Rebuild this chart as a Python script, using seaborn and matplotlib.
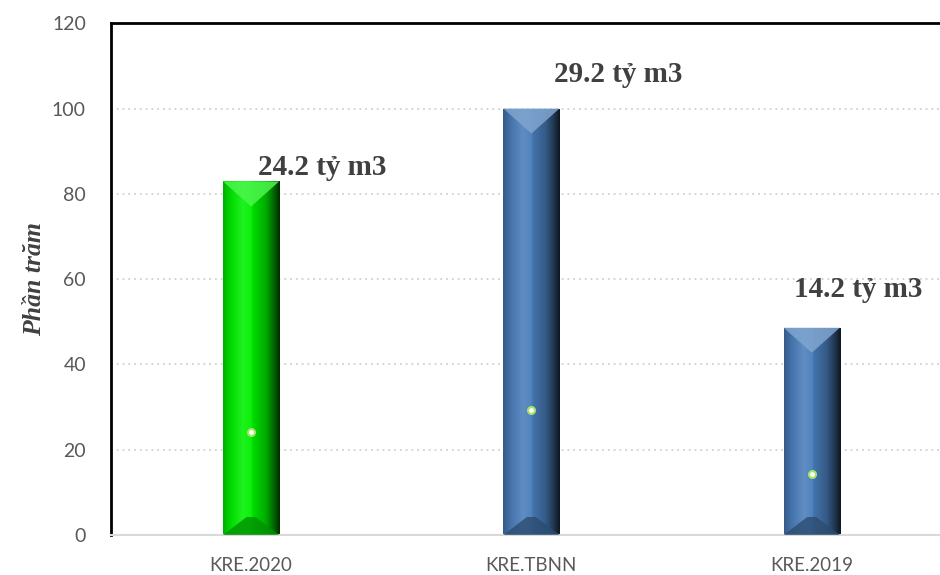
import numpy as np
import pandas as pd
import matplotlib.pyplot as plt
import seaborn as sns
from matplotlib.colors import LinearSegmentedColormap, to_rgb
from matplotlib.patches import Polygon

############################################################
# DATA
############################################################
categories = ["KRE.2020", "KRE.TBNN", "KRE.2019"]
percent = [82.9, 100.0, 48.6]          # % of long-term average (TBNN)
volume = [24.2, 29.2, 14.2]            # billion m3
labels = ["24.2 tỷ m3", "29.2 tỷ m3", "14.2 tỷ m3"]
y_ticks = [0, 20, 40, 60, 80, 100, 120]

bar_colors = ["#00f000", "#4a7ebb", "#4a7ebb"]

df = pd.DataFrame({"cat": categories, "pct": percent, "vol": volume})

############################################################
# STYLE
############################################################
sns.set_theme(style="white")
plt.rcParams["font.family"] = ["Lato", "DejaVu Sans"]

fig = plt.figure(figsize=(9.4, 5.75), dpi=100)
# right edge runs past the figure, like the cropped original
ax = fig.add_axes([0.118, 0.0696, 0.8947, 0.890])

sns.barplot(data=df, x="cat", y="pct", hue="cat", palette=bar_colors,
            width=0.2, saturation=1, legend=False, ax=ax, zorder=2)

ax.set_ylim(0, 120)
ax.set_xlim(-0.5, 2.5)


def tone(rgb, f):
    rgb = np.array(rgb)
    if f >= 1:
        return tuple(np.clip(rgb + (1 - rgb) * (f - 1), 0, 1))
    return tuple(np.clip(rgb * f, 0, 1))


# fake bevel / gradient like the Excel 3D bars
ax_h_px = ax.get_window_extent().height
px = 120 / ax_h_px
stops = [(0.0, 0.72), (0.12, 0.9), (0.35, 1.12), (0.5, 1.04), (0.52, 0.92),
         (0.75, 0.72), (0.9, 0.42), (1.0, 0.18)]
for patch, col in zip(ax.patches, bar_colors):
    base = to_rgb(col)
    x0 = patch.get_x()
    w = patch.get_width()
    h = patch.get_height()
    x1 = x0 + w
    xc = x0 + w / 2
    cmap = LinearSegmentedColormap.from_list(
        "bev", [(p, tone(base, f)) for p, f in stops])
    img = ax.imshow(np.linspace(0, 1, 200).reshape(1, -1), cmap=cmap,
                    extent=[x0, x1, 0, h], aspect="auto", zorder=2.5,
                    interpolation="bicubic")
    img.set_clip_path(patch)
    top_d = 25 * px
    bot_d = 18 * px
    ax.add_patch(Polygon([(x0, h), (x1, h), (xc, h - top_d)], closed=True,
                         facecolor=tone(base, 1.3), edgecolor="none",
                         alpha=0.85, zorder=2.6))
    ax.add_patch(Polygon([(x0, 0), (x1, 0), (xc + w * 0.08, bot_d),
                          (xc - w * 0.08, bot_d)], closed=True,
                         facecolor=tone(base, 0.6), edgecolor="none",
                         alpha=0.8, zorder=2.6))

# small markers for the volume series
sns.stripplot(data=df, x="cat", y="vol", jitter=False, color="white",
              edgecolor="#a6e36b", linewidth=1.5, size=5, ax=ax, zorder=4)

# value labels
label_dx = [0.254, 0.31, 0.165]
label_y = [86.2, 108, 57.5]
for i, txt in enumerate(labels):
    ax.text(i + label_dx[i], label_y[i], txt, ha="center", va="center",
            fontsize=21, fontweight="bold", color="#404040",
            family=["Liberation Serif", "DejaVu Serif"])

############################################################
# AXES
############################################################
ax.set_yticks(y_ticks)
ax.yaxis.grid(True, color="#d0d0d0", linestyle=(0, (1, 2.2)), linewidth=1.3,
              zorder=0)
ax.set_axisbelow(True)
ax.tick_params(axis="y", length=0, pad=18, labelsize=14, labelcolor="#595959")
ax.tick_params(axis="x", length=0, pad=16, labelsize=13.5, labelcolor="#595959")

ax.set_xlabel("")
ax.set_ylabel("Phần trăm", fontsize=18.5, fontweight="bold", style="italic",
              color="#404040", family=["Liberation Serif", "DejaVu Serif"],
              labelpad=4)

for s in ["top", "left"]:
    ax.spines[s].set_color("black")
    ax.spines[s].set_linewidth(2)
ax.spines["bottom"].set_color("#d9d9d9")
ax.spines["bottom"].set_linewidth(1.5)
ax.spines["right"].set_visible(False)

plt.savefig("out.png", dpi=100)
